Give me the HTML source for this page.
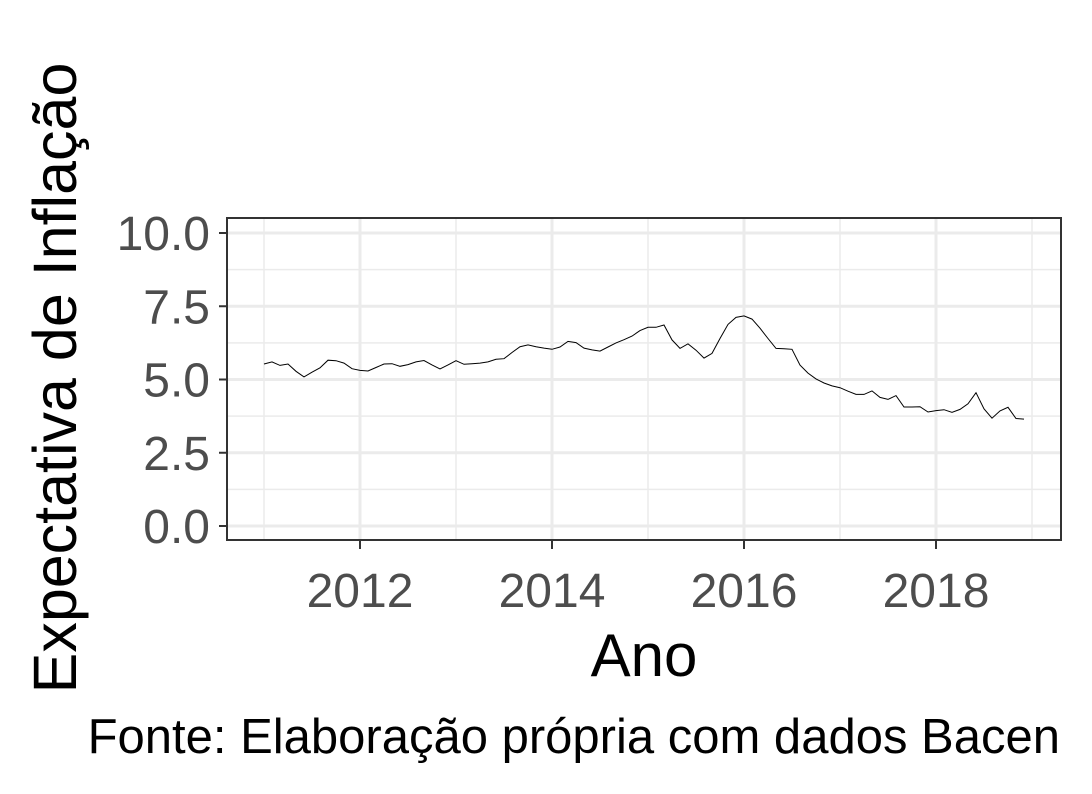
<!DOCTYPE html>
<html><head><meta charset="utf-8"><style>
body{margin:0;background:#fff}
svg{display:block;font-family:"Liberation Sans",sans-serif}
</style></head><body>
<svg id="chart" width="1092" height="794" viewBox="0 0 1092 794">
<rect width="1092" height="794" fill="#fff"/>
<g id="grid"></g>
<g id="axes"></g>
<path id="line" fill="none" stroke="#000" stroke-width="1"/>
<rect x="227" y="218" width="834" height="322" fill="none" stroke="#333" stroke-width="2"/>
<text x="644" y="676" font-size="60" text-anchor="middle" fill="#000">Ano</text>
<text transform="translate(76,378) rotate(-90)" font-size="61" text-anchor="middle" fill="#000">Expectativa de Inflação</text>
<text x="1060" y="753" font-size="49" text-anchor="end" fill="#000">Fonte: Elaboração própria com dados Bacen</text>
</svg>
<script>
const startYear = 2011;
const values = [5.53,5.60,5.48,5.53,5.28,5.09,5.25,5.40,5.66,5.64,5.56,5.37,
5.31,5.29,5.41,5.53,5.54,5.45,5.51,5.60,5.65,5.50,5.36,5.50,
5.64,5.52,5.54,5.56,5.60,5.69,5.71,5.92,6.12,6.18,6.12,6.07,
6.03,6.11,6.30,6.26,6.07,6.01,5.97,6.11,6.25,6.36,6.48,6.67,
6.78,6.78,6.86,6.35,6.06,6.22,6.00,5.73,5.89,6.40,6.88,7.12,
7.17,7.06,6.75,6.40,6.06,6.05,6.03,5.49,5.22,5.02,4.88,4.78,
4.72,4.60,4.49,4.49,4.61,4.39,4.32,4.45,4.06,4.06,4.07,3.89,
3.94,3.97,3.88,3.98,4.17,4.55,4.00,3.68,3.93,4.05,3.67,3.65];
const yTicks = [0,2.5,5,7.5,10];
const yTickLabels = ["0.0","2.5","5.0","7.5","10.0"];
const xTicks = [2012,2014,2016,2018];
const xMinor = [2011,2013,2015,2017,2019];

const xs = yr => 360 + (yr-2012)*96;
const ys = v => 526 - v*29.3;
const NS = "http://www.w3.org/2000/svg";
const grid = document.getElementById('grid');
const axes = document.getElementById('axes');
function mk(tag, attrs, parent){const e=document.createElementNS(NS,tag);for(const k in attrs)e.setAttribute(k,attrs[k]);parent.appendChild(e);return e;}
for(let i=0;i<yTicks.length-1;i++){
  const y=ys((yTicks[i]+yTicks[i+1])/2);
  const g=mk('line',{x1:228,x2:1060,y1:y,y2:y,stroke:'#ebebeb','stroke-width':1.5},grid);
  
  
}
xMinor.forEach(v=>{
  const x=xs(v);
  const g=mk('line',{x1:x,x2:x,y1:219,y2:539,stroke:'#ebebeb','stroke-width':1.5},grid);
  
  
});
yTicks.forEach((v,i)=>{
  const y=ys(v);
  const g=mk('line',{x1:228,x2:1060,y1:y,y2:y,stroke:'#ebebeb','stroke-width':3},grid);
  
  
  const t=mk('line',{x1:219,x2:227,y1:y,y2:y,stroke:'#333','stroke-width':2},axes);
  
  
  const l=mk('text',{x:210,y:y+17,'font-size':48,'text-anchor':'end',fill:'#4d4d4d'},axes);
  l.textContent=yTickLabels[i];
  
  
});
xTicks.forEach(v=>{
  const x=xs(v);
  const g=mk('line',{x1:x,x2:x,y1:219,y2:539,stroke:'#ebebeb','stroke-width':3},grid);
  
  
  const t=mk('line',{x1:x,x2:x,y1:541,y2:549,stroke:'#333','stroke-width':2},axes);
  
  
  const l=mk('text',{x:x,y:607,'font-size':48,'text-anchor':'middle',fill:'#4d4d4d'},axes);
  l.textContent=String(v);
  
  
});
document.getElementById('line').setAttribute('d',values.map((v,i)=>(i?'L':'M')+xs(startYear+i/12).toFixed(1)+','+ys(v).toFixed(1)).join(''));
</script>
</body></html>
